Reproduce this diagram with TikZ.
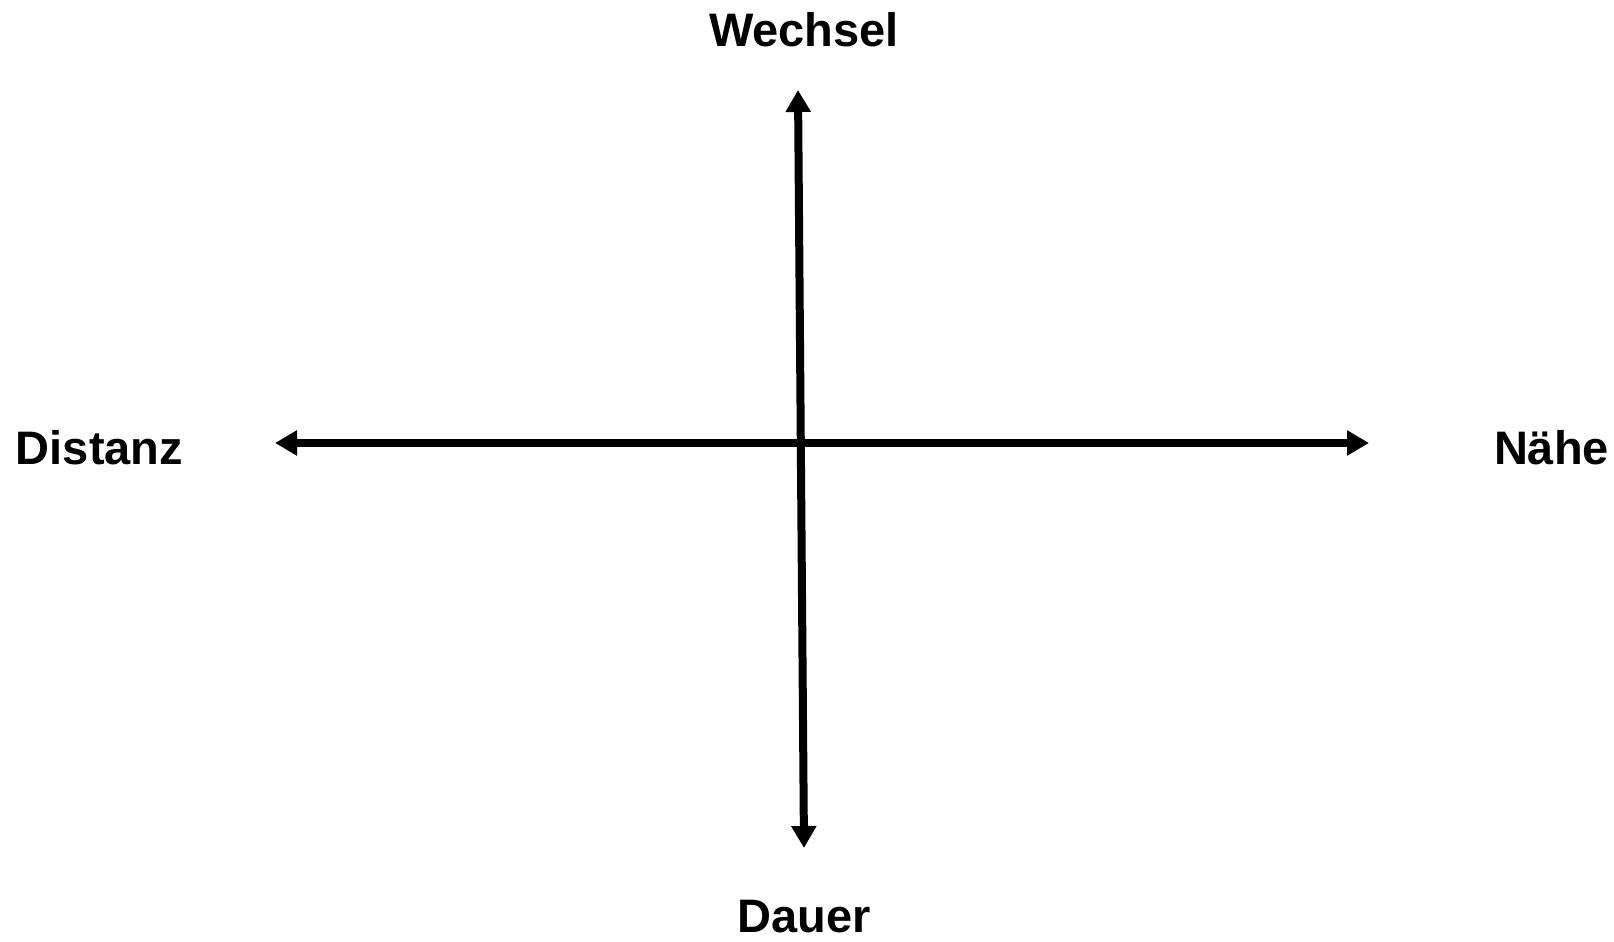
\documentclass[tikz,border=0pt]{standalone}
\usepackage{fontspec}
\setmainfont{Liberation Sans}
\usetikzlibrary{arrows.meta}
\begin{document}
\begin{tikzpicture}[x=1pt,y=1pt,
  axis/.style={line width=8pt, {Triangle[width=24pt,length=22pt]}-{Triangle[width=24pt,length=22pt]}},
  lbl/.style={font=\fontsize{47}{50}\selectfont\bfseries, inner sep=0pt, anchor=base}]
\useasboundingbox (0,0) rectangle (1614,942);
\coordinate (top) at (798,852);
\coordinate (bot) at (804,94);
\coordinate (left) at (275,499);
\coordinate (right) at (1369,499);
\draw[axis] (left) -- (right);
\draw[axis] (top) -- (bot);
\node[lbl] (w) at (804,895) {Wechsel};
\node[lbl] (d) at (804.5,9) {Dauer};
\node[lbl] (dist) at (99.5,477) {Distanz};
\node[lbl] (n) at (1551.5,477) {Nähe};
\end{tikzpicture}
\end{document}
